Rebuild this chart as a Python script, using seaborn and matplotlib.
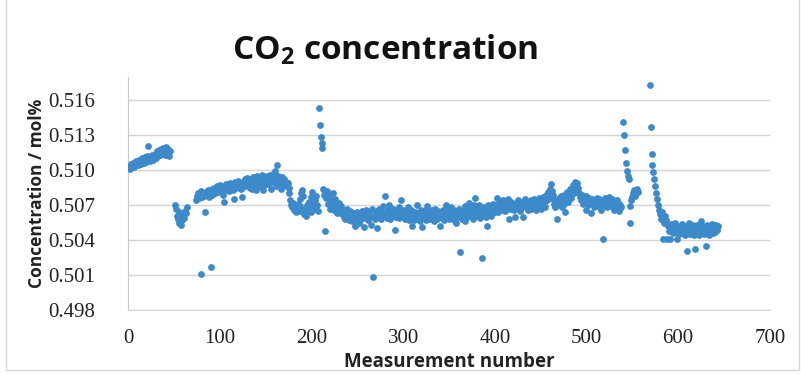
import numpy as np
import pandas as pd
import matplotlib.pyplot as plt
import seaborn as sns
from matplotlib.patches import Rectangle

run_starts = [1, 51, 74, 176, 208, 213, 301, 401, 540, 569, 589]

run_values = [
    # 1..46
    [0.5103, 0.5101, 0.5105, 0.5104, 0.5106, 0.5103, 0.5107, 0.5105, 0.5108, 0.5106,
     0.5104, 0.5109, 0.5107, 0.5105, 0.5110, 0.5108, 0.5106, 0.5111, 0.5109, 0.5107,
     0.5112, 0.5121, 0.5110, 0.5108, 0.5111, 0.5113, 0.5109, 0.5112, 0.5114, 0.5110,
     0.5116, 0.5112, 0.5115, 0.5117, 0.5113, 0.5118, 0.5115, 0.5119, 0.5116, 0.5113,
     0.5120, 0.5117, 0.5114, 0.5118, 0.5112, 0.5116],
    # 51..64
    [0.5070, 0.5067, 0.5061, 0.5058, 0.5064, 0.5055, 0.5060, 0.5053, 0.5057, 0.5062,
     0.5059, 0.5065, 0.5063, 0.5068],
    # 74..175
    [0.5074, 0.5078, 0.5080, 0.5076, 0.5079, 0.5082, 0.5011, 0.5077, 0.5080, 0.5078,
     0.5064, 0.5081, 0.5079, 0.5083, 0.5077, 0.5080, 0.5017, 0.5084, 0.5079, 0.5082,
     0.5085, 0.5080, 0.5083, 0.5086, 0.5081, 0.5084, 0.5087, 0.5082, 0.5085, 0.5079,
     0.5086, 0.5073, 0.5083, 0.5088, 0.5084, 0.5087, 0.5082, 0.5089, 0.5085, 0.5088,
     0.5083, 0.5075, 0.5087, 0.5090, 0.5085, 0.5088, 0.5091, 0.5086, 0.5089, 0.5084,
     0.5077, 0.5090, 0.5087, 0.5092, 0.5086, 0.5089, 0.5093, 0.5088, 0.5091, 0.5085,
     0.5092, 0.5084, 0.5094, 0.5087, 0.5090, 0.5093, 0.5083, 0.5095, 0.5091, 0.5086,
     0.5093, 0.5089, 0.5096, 0.5083, 0.5087, 0.5094, 0.5091, 0.5088, 0.5095, 0.5092,
     0.5089, 0.5096, 0.5084, 0.5090, 0.5097, 0.5092, 0.5099, 0.5086, 0.5104, 0.5091,
     0.5095, 0.5089, 0.5093, 0.5084, 0.5094, 0.5088, 0.5092, 0.5087, 0.5090, 0.5086,
     0.5089, 0.5085],
    # 176..207
    [0.5080, 0.5074, 0.5070, 0.5068, 0.5072, 0.5066, 0.5070, 0.5064, 0.5068, 0.5071,
     0.5065, 0.5069, 0.5075, 0.5080, 0.5083, 0.5078, 0.5062, 0.5067, 0.5061, 0.5070,
     0.5066, 0.5073, 0.5068, 0.5064, 0.5077, 0.5081, 0.5071, 0.5067, 0.5074, 0.5078,
     0.5070, 0.5065],
    # 208..212 spike
    [0.5153, 0.5139, 0.5128, 0.5123, 0.5119],
    # 213..300
    [0.5084, 0.5079, 0.5048, 0.5076, 0.5082, 0.5071, 0.5078, 0.5067, 0.5074, 0.5069,
     0.5080, 0.5072, 0.5066, 0.5075, 0.5070, 0.5063, 0.5068, 0.5072, 0.5065, 0.5069,
     0.5062, 0.5066, 0.5060, 0.5064, 0.5058, 0.5063, 0.5067, 0.5061, 0.5057, 0.5065,
     0.5060, 0.5056, 0.5063, 0.5059, 0.5052, 0.5062, 0.5058, 0.5064, 0.5060, 0.5055,
     0.5062, 0.5058, 0.5065, 0.5061, 0.5051, 0.5063, 0.5059, 0.5066, 0.5062, 0.5057,
     0.5064, 0.5060, 0.5053, 0.5067, 0.5008, 0.5061, 0.5058, 0.5063, 0.5050, 0.5065,
     0.5060, 0.5067, 0.5062, 0.5058, 0.5064, 0.5069, 0.5061, 0.5078, 0.5063, 0.5059,
     0.5066, 0.5062, 0.5070, 0.5058, 0.5064, 0.5061, 0.5067, 0.5063, 0.5049, 0.5060,
     0.5065, 0.5062, 0.5068, 0.5059, 0.5064, 0.5074, 0.5061, 0.5066],
    # 301..400
    [0.5062, 0.5058, 0.5065, 0.5060, 0.5068, 0.5057, 0.5063, 0.5059, 0.5066, 0.5052,
     0.5061, 0.5057, 0.5064, 0.5060, 0.5070, 0.5058, 0.5063, 0.5056, 0.5066, 0.5061,
     0.5051, 0.5059, 0.5065, 0.5062, 0.5057, 0.5069, 0.5060, 0.5064, 0.5058, 0.5062,
     0.5066, 0.5059, 0.5063, 0.5056, 0.5067, 0.5061, 0.5058, 0.5065, 0.5060, 0.5052,
     0.5063, 0.5059, 0.5066, 0.5061, 0.5057, 0.5064, 0.5070, 0.5060, 0.5065, 0.5058,
     0.5062, 0.5068, 0.5059, 0.5063, 0.5057, 0.5066, 0.5061, 0.5055, 0.5064, 0.5060,
     0.5067, 0.5030, 0.5062, 0.5058, 0.5065, 0.5061, 0.5069, 0.5056, 0.5063, 0.5060,
     0.5066, 0.5072, 0.5062, 0.5068, 0.5064, 0.5058, 0.5070, 0.5076, 0.5065, 0.5061,
     0.5067, 0.5063, 0.5070, 0.5059, 0.5066, 0.5025, 0.5062, 0.5068, 0.5064, 0.5060,
     0.5052, 0.5066, 0.5070, 0.5063, 0.5068, 0.5061, 0.5065, 0.5071, 0.5067, 0.5064],
    # 401..538
    [0.5068, 0.5076, 0.5064, 0.5071, 0.5067, 0.5073, 0.5066, 0.5070, 0.5074, 0.5068,
     0.5065, 0.5072, 0.5069, 0.5075, 0.5058, 0.5070, 0.5067, 0.5073, 0.5068, 0.5071,
     0.5066, 0.5060, 0.5072, 0.5069, 0.5074, 0.5067, 0.5071, 0.5065, 0.5073, 0.5068,
     0.5060, 0.5070, 0.5075, 0.5068, 0.5072, 0.5066, 0.5071, 0.5069, 0.5074, 0.5067,
     0.5072, 0.5068, 0.5075, 0.5070, 0.5066, 0.5073, 0.5069, 0.5076, 0.5071, 0.5067,
     0.5074, 0.5070, 0.5077, 0.5072, 0.5068, 0.5079, 0.5074, 0.5081, 0.5076, 0.5084,
     0.5088, 0.5082, 0.5079, 0.5075, 0.5071, 0.5068, 0.5073, 0.5058, 0.5070, 0.5076,
     0.5072, 0.5078, 0.5068, 0.5074, 0.5079, 0.5071, 0.5064, 0.5076, 0.5081, 0.5073,
     0.5078, 0.5084, 0.5076, 0.5082, 0.5087, 0.5080, 0.5086, 0.5090, 0.5083, 0.5089,
     0.5085, 0.5080, 0.5077, 0.5074, 0.5079, 0.5071, 0.5076, 0.5073, 0.5066, 0.5078,
     0.5074, 0.5070, 0.5076, 0.5072, 0.5063, 0.5075, 0.5071, 0.5068, 0.5074, 0.5070,
     0.5076, 0.5072, 0.5069, 0.5075, 0.5071, 0.5066, 0.5073, 0.5041, 0.5070, 0.5076,
     0.5072, 0.5068, 0.5074, 0.5071, 0.5077, 0.5073, 0.5069, 0.5075, 0.5070, 0.5066,
     0.5072, 0.5069, 0.5074, 0.5067, 0.5071, 0.5065, 0.5070, 0.5068],
    # 540..556 first spike and recovery
    [0.5141, 0.5130, 0.5117, 0.5106, 0.5099, 0.5095, 0.5092, 0.5055, 0.5069, 0.5074,
     0.5077, 0.5080, 0.5083, 0.5078, 0.5082, 0.5084, 0.5081],
    # 569..588 second spike and drop
    [0.5173, 0.5137, 0.5114, 0.5104, 0.5098, 0.5092, 0.5086, 0.5080, 0.5075, 0.5070,
     0.5066, 0.5062, 0.5058, 0.5064, 0.5060, 0.5041, 0.5055, 0.5061, 0.5057, 0.5041],
    # 589..643
    [0.5052, 0.5048, 0.5041, 0.5054, 0.5050, 0.5046, 0.5053, 0.5049, 0.5055, 0.5047,
     0.5041, 0.5051, 0.5045, 0.5052, 0.5048, 0.5054, 0.5046, 0.5050, 0.5044, 0.5052,
     0.5047, 0.5031, 0.5049, 0.5055, 0.5045, 0.5051, 0.5047, 0.5053, 0.5044, 0.5032,
     0.5050, 0.5046, 0.5053, 0.5048, 0.5044, 0.5051, 0.5056, 0.5047, 0.5052, 0.5045,
     0.5049, 0.5035, 0.5053, 0.5046, 0.5050, 0.5044, 0.5052, 0.5048, 0.5054, 0.5046,
     0.5051, 0.5047, 0.5053, 0.5049, 0.5052],
]

x_ticks = [0, 100, 200, 300, 400, 500, 600, 700]
y_ticks = [0.498, 0.501, 0.504, 0.507, 0.510, 0.513, 0.516]

rows = []
for start, vals in zip(run_starts, run_values):
    for i, v in enumerate(vals):
        rows.append((start + i, v))
df = pd.DataFrame(rows, columns=['measurement', 'co2'])

sns.set_style('white')
plt.rcParams['mathtext.fontset'] = 'custom'
plt.rcParams['mathtext.rm'] = 'Open Sans:bold'
plt.rcParams['mathtext.bf'] = 'Open Sans:bold'

fig = plt.figure(figsize=(8.01, 3.74), dpi=100)
ax = fig.add_axes([0.160, 0.171, 0.801, 0.624])

sns.scatterplot(data=df, x='measurement', y='co2', ax=ax, color='#3D8ACB',
                s=24, linewidth=0, zorder=3)

ax.set_xlim(0, 700)
ax.set_ylim(0.498, 0.518)
ax.set_xticks(x_ticks)
ax.set_yticks(y_ticks)
ax.set_yticklabels([f'{t:.3f}' for t in y_ticks])
ax.grid(axis='y', color='#d4d4d4', linewidth=1.0)
ax.grid(axis='x', visible=False)

for side in ['top', 'right']:
    ax.spines[side].set_visible(False)
ax.spines['left'].set_color('#c8c8c8')
ax.spines['bottom'].set_color('#d4d4d4')
ax.tick_params(axis='both', length=3, color='#c0c0c0', direction='out')
ax.tick_params(axis='y', pad=21)
ax.tick_params(axis='x', pad=11)
for lab in ax.get_xticklabels() + ax.get_yticklabels():
    lab.set_family('Liberation Serif')
    lab.set_fontsize(15)
    lab.set_color('#222222')

ax.set_xlabel('Measurement number', fontsize=13.5, fontweight='bold',
              family='Open Sans', color='#222222')
ax.xaxis.set_label_coords(0.5, -0.178)
ax.set_ylabel('Concentration / mol%', fontsize=12.5, fontweight='bold',
              family='Open Sans', color='#222222')
ax.yaxis.set_label_coords(-0.128, 0.5)

fig.text(0.481, 0.866, r'CO$_2$ concentration', fontsize=24, fontweight='bold',
         family='Open Sans', ha='center', va='center', color='#111111')

# faint chart-area border like the original
fig.patches.append(Rectangle((0.008, 0.012), 0.99, 1.2, transform=fig.transFigure,
                             fill=False, edgecolor='#d8d8d8', linewidth=1.0))

fig.savefig('out.png', dpi=100)
